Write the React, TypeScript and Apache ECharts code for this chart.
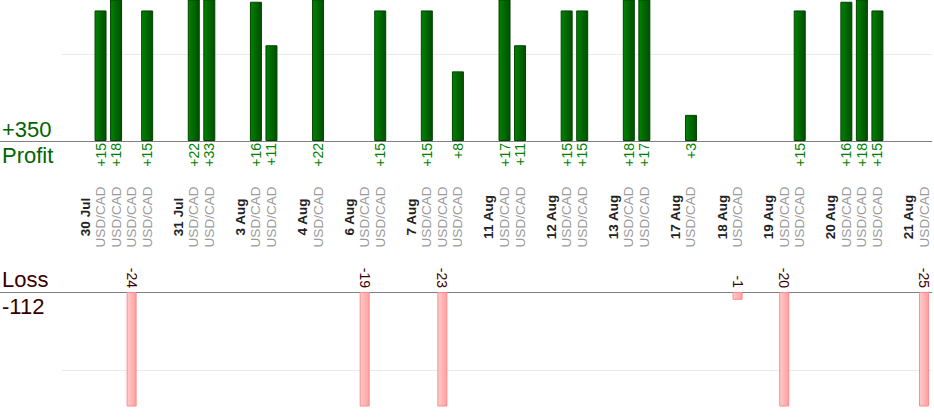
import React, { useEffect, useRef } from 'react';
import * as echarts from 'echarts';

// ---- data ----
const dates: string[] = [
  '30 Jul', '31 Jul', '3 Aug', '4 Aug', '6 Aug', '7 Aug', '11 Aug',
  '12 Aug', '13 Aug', '17 Aug', '18 Aug', '19 Aug', '20 Aug', '21 Aug',
];
const pair = 'USD/CAD';
// one list of trade results per date (same order as dates)
const tradeResults: number[][] = [
  [15, 18, -24, 15],
  [22, 33],
  [16, 11],
  [22],
  [-19, 15],
  [15, -23, 8],
  [17, 11],
  [15, 15],
  [18, 17],
  [3],
  [-1],
  [-20, 15],
  [16, 18, 15],
  [-25],
];
const profitTitle = 'Profit';
const lossTitle = 'Loss';

// ---- slot table built from the data ----
type Slot = { kind: 'empty' | 'date' | 'trade'; text: string; value: number | null };
const slots: Slot[] = [{ kind: 'empty', text: '', value: null }];
dates.forEach((d, i) => {
  slots.push({ kind: 'date', text: d, value: null });
  tradeResults[i].forEach((v) => slots.push({ kind: 'trade', text: pair, value: v }));
  if (i < dates.length - 1) slots.push({ kind: 'empty', text: '', value: null });
});
const slotIds = slots.map((_, i) => 's' + i);
const profitData = slots.map((s) => (s.value !== null && s.value > 0 ? s.value : '-'));
const lossData = slots.map((s) => (s.value !== null && s.value < 0 ? -s.value : '-'));
const totalProfit = slots.reduce((a, s) => a + (s.value !== null && s.value > 0 ? s.value : 0), 0);
const totalLoss = slots.reduce((a, s) => a + (s.value !== null && s.value < 0 ? s.value : 0), 0);

const FONT = 'Arial, "Liberation Sans", Helvetica, sans-serif';
const GRID_LEFT = 61.7;
const GRID_RIGHT = 2.2;
const TOP_AXIS_Y = 141;
const BOT_AXIS_Y = 292;
const BOT_H = 114;
const AXIS_COLOR = '#808080';
const SPLIT_COLOR = '#ebebeb';

export default function App() {
  const ref = useRef<HTMLDivElement>(null);
  useEffect(() => {
    document.body.style.margin = '0';
    if (!ref.current) return;
    const chart = echarts.init(ref.current, null, { renderer: 'svg' });
    const option: any = {
      animation: false,
      backgroundColor: '#ffffff',
      textStyle: { fontFamily: FONT },
      grid: [
        { left: GRID_LEFT, right: GRID_RIGHT, top: 0, height: TOP_AXIS_Y, containLabel: false },
        { left: GRID_LEFT, right: GRID_RIGHT, top: BOT_AXIS_Y, height: BOT_H, containLabel: false },
      ],
      xAxis: [
        {
          gridIndex: 0,
          type: 'category',
          data: slotIds,
          position: 'bottom',
          offset: 0,
          axisLine: { show: true, onZero: false, lineStyle: { color: AXIS_COLOR, width: 1 } },
          axisTick: { show: false },
          splitLine: { show: false },
          axisLabel: {
            interval: 0,
            rotate: 90,
            margin: 2,
            fontSize: 14,
            fontFamily: FONT,
            color: '#008000',
            formatter: (_v: string, i: number) => {
              const s = slots[i];
              return s && s.value !== null && s.value > 0 ? '+' + s.value : '';
            },
          },
        },
        {
          gridIndex: 0,
          type: 'category',
          data: slotIds,
          position: 'bottom',
          offset: 0,
          axisLine: { show: false },
          axisTick: { show: false },
          splitLine: { show: false },
          axisLabel: {
            interval: 0,
            rotate: 90,
            margin: 76,
            align: 'center',
            verticalAlign: 'middle',
            formatter: (_v: string, i: number) => {
              const s = slots[i];
              if (!s || s.kind === 'empty') return '';
              return s.kind === 'date' ? '{d|' + s.text + '}' : '{p|' + s.text + '}';
            },
            rich: {
              d: { fontSize: 13.5, fontWeight: 'bold', color: '#222222', fontFamily: FONT },
              p: { fontSize: 13.5, color: '#9a9a9a', fontFamily: FONT },
            },
          },
        },
        {
          gridIndex: 1,
          type: 'category',
          data: slotIds,
          position: 'top',
          offset: 0,
          axisLine: { show: true, onZero: false, lineStyle: { color: AXIS_COLOR, width: 1 } },
          axisTick: { show: false },
          splitLine: { show: false },
          axisLabel: {
            interval: 0,
            rotate: 90,
            margin: 4,
            fontSize: 14,
            fontFamily: FONT,
            color: '#3a0000',
            formatter: (_v: string, i: number) => {
              const s = slots[i];
              return s && s.value !== null && s.value < 0 ? String(s.value) : '';
            },
          },
        },
      ],
      yAxis: [
        {
          gridIndex: 0,
          type: 'value',
          min: 0,
          max: 16.2,
          interval: 10,
          axisLine: { show: false },
          axisTick: { show: false },
          axisLabel: { show: false },
          splitLine: { show: true, showMinLine: false, showMaxLine: false, lineStyle: { color: SPLIT_COLOR, width: 1 } },
        },
        {
          gridIndex: 1,
          type: 'value',
          inverse: true,
          min: 0,
          max: 14.6,
          interval: 10,
          axisLine: { show: false },
          axisTick: { show: false },
          axisLabel: { show: false },
          splitLine: { show: true, showMinLine: false, showMaxLine: false, lineStyle: { color: SPLIT_COLOR, width: 1 } },
        },
      ],
      series: [
        {
          type: 'bar',
          name: profitTitle,
          xAxisIndex: 0,
          yAxisIndex: 0,
          data: profitData,
          barWidth: 12,
          clip: true,
          itemStyle: {
            color: new echarts.graphic.LinearGradient(0, 0, 1, 0, [
              { offset: 0, color: '#008300' },
              { offset: 1, color: '#004d00' },
            ]),
            borderColor: '#004400',
            borderWidth: 1,
          },
        },
        {
          type: 'bar',
          name: lossTitle,
          xAxisIndex: 2,
          yAxisIndex: 1,
          data: lossData,
          barWidth: 10,
          clip: true,
          itemStyle: {
            color: new echarts.graphic.LinearGradient(0, 0, 1, 0, [
              { offset: 0, color: '#ffcccc' },
              { offset: 1, color: '#ff9f9f' },
            ]),
            borderColor: '#ff8c8c',
            borderWidth: 1,
          },
        },
      ],
      graphic: [
        {
          type: 'line',
          silent: true,
          shape: { x1: 0, y1: TOP_AXIS_Y + 0.5, x2: GRID_LEFT + 1, y2: TOP_AXIS_Y + 0.5 },
          style: { stroke: AXIS_COLOR, lineWidth: 1 },
        },
        {
          type: 'line',
          silent: true,
          shape: { x1: 0, y1: BOT_AXIS_Y + 0.5, x2: GRID_LEFT + 1, y2: BOT_AXIS_Y + 0.5 },
          style: { stroke: AXIS_COLOR, lineWidth: 1 },
        },
        {
          type: 'text',
          left: 2,
          top: TOP_AXIS_Y - 23,
          style: { text: '+' + totalProfit, fontSize: 22, fontFamily: FONT, fill: '#006400' },
        },
        {
          type: 'text',
          left: 2,
          top: TOP_AXIS_Y + 3,
          style: { text: profitTitle, fontSize: 22, fontFamily: FONT, fill: '#006400' },
        },
        {
          type: 'text',
          left: 2,
          top: BOT_AXIS_Y - 24,
          style: { text: lossTitle, fontSize: 22, fontFamily: FONT, fill: '#3a0000' },
        },
        {
          type: 'text',
          left: 2,
          top: BOT_AXIS_Y + 3,
          style: { text: String(totalLoss), fontSize: 22, fontFamily: FONT, fill: '#3a0000' },
        },
      ],
    };
    chart.setOption(option);
    return () => chart.dispose();
  }, []);
  return <div ref={ref} style={{ width: 934, height: 420 }} />;
}
